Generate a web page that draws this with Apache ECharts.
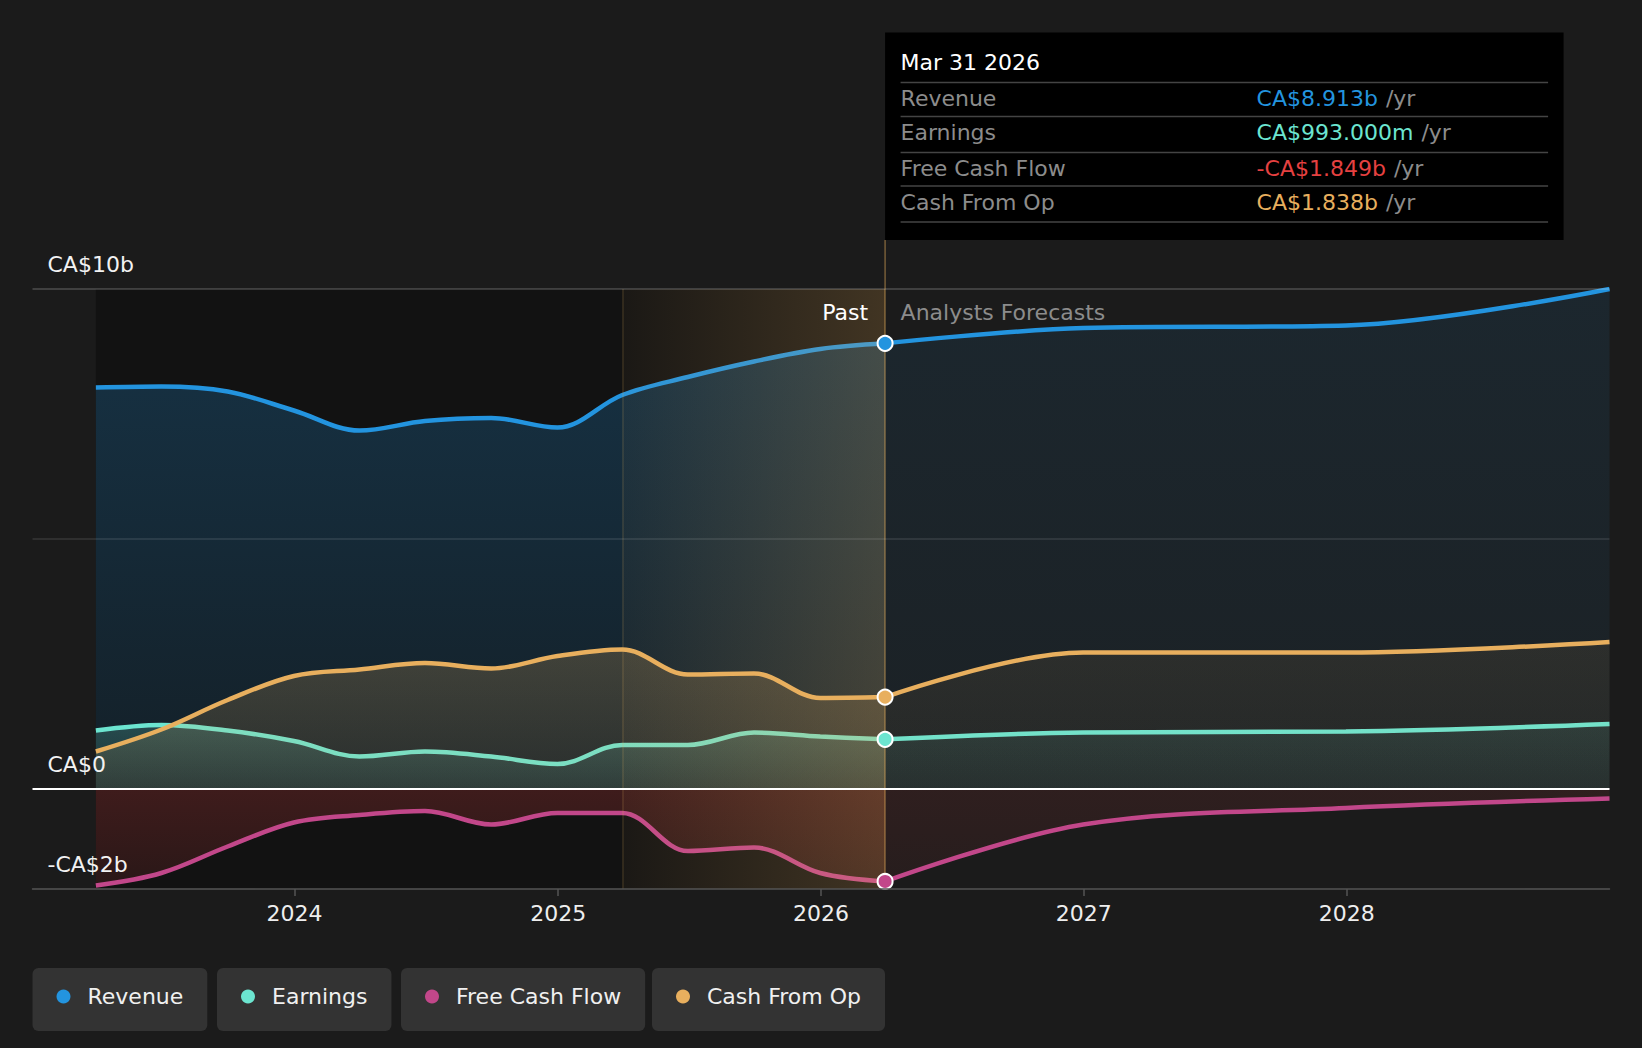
<!DOCTYPE html>
<html>
<head>
<meta charset="utf-8">
<script src="https://cdn.jsdelivr.net/npm/echarts@6/dist/echarts.min.js"></script>
<style>
html,body{margin:0;padding:0;background:#1b1b1b;}
#c{width:1642px;height:1048px;}
</style>
</head>
<body>
<div id="c"></div>
<script>
// ---------------- data ----------------
const seriesNames = ['Revenue', 'Earnings', 'Free Cash Flow', 'Cash From Op'];
const pastDates = ['2023-03-31','2023-06-30','2023-09-30','2023-12-31','2024-03-31','2024-06-30','2024-09-30','2024-12-31','2025-03-31','2025-06-30','2025-09-30','2025-12-31','2026-03-31'];
const revenuePast  = [8.03, 8.05, 7.95, 7.57, 7.17, 7.36, 7.42, 7.23, 7.88, 8.24, 8.55, 8.80, 8.913];
const earningsPast = [1.17, 1.28, 1.17, 0.96, 0.65, 0.75, 0.65, 0.50, 0.88, 0.88, 1.13, 1.05, 0.993];
const fcfPast      = [-1.93, -1.68, -1.15, -0.67, -0.52, -0.44, -0.71, -0.48, -0.48, -1.24, -1.17, -1.68, -1.849];
const cashOpPast   = [0.75, 1.19, 1.78, 2.26, 2.39, 2.52, 2.41, 2.66, 2.79, 2.29, 2.31, 1.82, 1.838];
const forecastDates = ['2026-03-31','2026-12-31','2027-12-31','2028-12-31'];
const revenueFc  = [8.913, 9.22, 9.27, 10.0];
const earningsFc = [0.993, 1.13, 1.15, 1.30];
const fcfFc      = [-1.849, -0.71, -0.38, -0.19];
const cashOpFc   = [1.838, 2.73, 2.73, 2.94];
const yTickLabels = {'10': 'CA$10b', '0': 'CA$0', '-2': '-CA$2b'};
const highlightStart = '2025-03-31';
const todayDate = '2026-03-31';
const tooltipTitle = 'Mar 31 2026';
const pastLabel = 'Past';
const forecastLabel = 'Analysts Forecasts';

// ---------------- style ----------------
const FONT = 'DejaVu Sans';
const FS = 22;
const COL = {
  'Revenue': '#2394df',
  'Earnings': '#6ce5d0',
  'Free Cash Flow': '#c2478a',
  'Cash From Op': '#e8af5e'
};
const VALCOL = {
  'Revenue': '#2394df',
  'Earnings': '#6ce5d0',
  'Free Cash Flow': '#e64141',
  'Cash From Op': '#e8af5e'
};
function rgba(hex, a) {
  const n = parseInt(hex.slice(1), 16);
  return 'rgba(' + (n >> 16) + ',' + ((n >> 8) & 255) + ',' + (n & 255) + ',' + a + ')';
}
function vgrad(c0, c1) {
  return {type: 'linear', x: 0, y: 0, x2: 0, y2: 1, colorStops: [{offset: 0, color: c0}, {offset: 1, color: c1}]};
}
const pair = (dates, vals) => dates.map((d, i) => [d, vals[i]]);

const metrics = [
  {name: 'Revenue', past: revenuePast, fc: revenueFc, fill: '#2394df', a: [0.34, 0.15], af: [0.14, 0.07]},
  {name: 'Earnings', past: earningsPast, fc: earningsFc, fill: '#6ce5d0', a: [0.3, 0.12], af: [0.15, 0.07]},
  {name: 'Cash From Op', past: cashOpPast, fc: cashOpFc, fill: '#e8af5e', a: [0.3, 0.14], af: [0.12, 0.06]},
  {name: 'Free Cash Flow', past: fcfPast, fc: fcfFc, fill: '#e64141', a: [0.3, 0.16], af: [0.14, 0.08]}
];

const SMOOTH = 0.35;
const series = [];
series.push({
  type: 'line', name: '_bg', data: [], silent: true, z: 1,
  markArea: {
    silent: true, z: 1,
    itemStyle: {color: 'rgba(0,0,0,0.33)'},
    data: [[{xAxis: pastDates[0]}, {xAxis: todayDate}]]
  }
});
metrics.forEach((m, idx) => {
  const col = COL[m.name];
  series.push({
    type: 'line', name: m.name, data: pair(pastDates, m.past),
    smooth: SMOOTH, symbol: 'none', z: 2 + idx * 0.01,
    lineStyle: {color: col, width: 4.5},
    itemStyle: {color: col},
    areaStyle: {color: vgrad(rgba(m.fill, m.a[0]), rgba(m.fill, m.a[1]))}
  });
  series.push({
    type: 'line', name: m.name + ' (forecast)', data: pair(forecastDates, m.fc),
    smooth: SMOOTH, symbol: 'none', z: 2 + idx * 0.01,
    lineStyle: {color: col, width: 4.5},
    itemStyle: {color: col},
    areaStyle: {color: vgrad(rgba(m.fill, m.af[0]), rgba(m.fill, m.af[1]))}
  });
});
series.push({
  type: 'line', name: '_band', data: [], silent: true, z: 3,
  markArea: {
    silent: true, z: 3,
    itemStyle: {color: {type: 'linear', x: 0, y: 0, x2: 1, y2: 0, colorStops: [
      {offset: 0, color: 'rgba(232,175,94,0.04)'}, {offset: 1, color: 'rgba(232,175,94,0.22)'}]}},
    data: [[{xAxis: highlightStart}, {xAxis: todayDate}]]
  },
  markLine: {
    silent: true, symbol: ['none', 'none'], z: 4, label: {show: false},
    data: [
      {xAxis: highlightStart, lineStyle: {color: 'rgba(232,175,94,0.16)', width: 1.5, type: 'solid'}},
      {xAxis: todayDate, lineStyle: {color: 'rgba(232,175,94,0.45)', width: 1.5, type: 'solid'}}
    ]
  }
});
series.push({
  type: 'line', name: '_grid', data: [], silent: true, z: 5,
  markLine: {
    silent: true, symbol: ['none', 'none'], z: 5, label: {show: false},
    data: [
      {yAxis: 10, lineStyle: {color: 'rgba(255,255,255,0.22)', width: 1.5, type: 'solid'}},
      {yAxis: 5, lineStyle: {color: 'rgba(255,255,255,0.12)', width: 1.5, type: 'solid'}},
      {yAxis: 0, lineStyle: {color: '#ffffff', width: 2, type: 'solid'}}
    ]
  }
});
const lastIdx = pastDates.length - 1;
metrics.forEach(m => {
  series.push({
    type: 'scatter', name: '_pt_' + m.name, z: 6, silent: true,
    data: [[pastDates[lastIdx], m.past[lastIdx]]],
    symbol: 'circle', symbolSize: 15,
    itemStyle: {color: COL[m.name], borderColor: '#ffffff', borderWidth: 2, opacity: 1}
  });
});

const legendLefts = [32.5, 217, 401, 652];
const legends = seriesNames.map((n, i) => ({
  data: [n], left: legendLefts[i], top: 968, orient: 'horizontal',
  backgroundColor: '#333333', borderRadius: 6, padding: [16, 24, 22, 24],
  itemWidth: 14, itemHeight: 14, icon: 'circle', selectedMode: false,
  textStyle: {color: '#f0f0f0', fontSize: FS, fontFamily: FONT, lineHeight: 25, padding: [0, 0, 0, 12]}
}));

const chart = echarts.init(document.getElementById('c'), null, {renderer: 'svg', width: 1642, height: 1048});
chart.setOption({
  animation: false,
  backgroundColor: '#1b1b1b',
  textStyle: {fontFamily: FONT},
  legend: legends,
  grid: {left: 32.5, right: 32.5, top: 289, bottom: 159, containLabel: false},
  xAxis: {
    type: 'time', min: '2023-01-02', max: '2028-12-31', splitNumber: 6, z: 8,
    axisLine: {show: true, onZero: false, lineStyle: {color: '#555555', width: 1.5}},
    axisTick: {show: true, length: 7, lineStyle: {color: '#555555', width: 1.5}},
    splitLine: {show: false},
    minorTick: {show: false},
    axisLabel: {
      color: '#eeeeee', fontSize: FS, fontFamily: FONT, margin: 13,
      formatter: v => { const d = new Date(v); return (d.getMonth() === 0 && d.getDate() === 1) ? String(d.getFullYear()) : ''; }
    }
  },
  yAxis: {
    type: 'value', min: -2, max: 10, interval: 1, z: 8,
    axisLine: {show: false}, axisTick: {show: false}, splitLine: {show: false},
    axisLabel: {
      inside: true, margin: 15, color: '#f2f2f2', fontSize: FS, fontFamily: FONT,
      verticalAlign: 'bottom', lineHeight: 24, padding: [0, 0, 13, 0],
      formatter: v => (yTickLabels[String(v)] !== undefined ? yTickLabels[String(v)] : '')
    }
  },
  series: series
});

// ---------------- annotations ----------------
function fmt(v) {
  const s = v < 0 ? '-' : '';
  const a = Math.abs(v);
  return a < 1 ? s + 'CA$' + (a * 1000).toFixed(3) + 'm' : s + 'CA$' + a.toFixed(3) + 'b';
}
const tPix = chart.convertToPixel({gridIndex: 0}, [echarts.number.parseDate(todayDate).getTime(), 10]);
const lx = tPix[0];
const gridTop = tPix[1];
const tipTop = 32.5, tipH = 207.5, tipW = 678.5;
const rowVals = {
  'Revenue': revenuePast[lastIdx],
  'Earnings': earningsPast[lastIdx],
  'Free Cash Flow': fcfPast[lastIdx],
  'Cash From Op': cashOpPast[lastIdx]
};
const rowYs = [98.5, 132.5, 168.5, 202];
const divYs = [82.5, 116.5, 152.5, 186, 222];
const FNT = FS + 'px "' + FONT + '"';
const g = [];
g.push({type: 'line', silent: true, z: 10, shape: {x1: lx, y1: tipTop + tipH, x2: lx, y2: gridTop},
  style: {stroke: 'rgba(232,175,94,0.45)', lineWidth: 1.5}});
g.push({type: 'rect', silent: true, z: 10, shape: {x: lx, y: tipTop, width: tipW, height: tipH}, style: {fill: '#000000'}});
g.push({type: 'text', silent: true, z: 11, style: {text: tooltipTitle, x: lx + 15.5, y: 62.5, fill: '#ffffff',
  font: FNT, align: 'left', verticalAlign: 'middle'}});
divYs.forEach(y => g.push({type: 'line', silent: true, z: 11, shape: {x1: lx + 15.5, y1: y, x2: lx + 663, y2: y},
  style: {stroke: '#444444', lineWidth: 1.5}}));
seriesNames.forEach((n, i) => {
  g.push({type: 'text', silent: true, z: 11, style: {text: n, x: lx + 15.5, y: rowYs[i], fill: '#8c8c8c',
    font: FNT, align: 'left', verticalAlign: 'middle'}});
  g.push({type: 'text', silent: true, z: 11, style: {
    text: '{v|' + fmt(rowVals[n]) + '}{u|/yr}', x: lx + 371.5, y: rowYs[i], align: 'left', verticalAlign: 'middle',
    rich: {v: {fill: VALCOL[n], fontSize: FS, fontFamily: FONT},
           u: {fill: '#8c8c8c', fontSize: FS, fontFamily: FONT, padding: [0, 0, 0, 8]}}
  }});
});
g.push({type: 'text', silent: true, z: 11, style: {text: pastLabel, x: lx - 17, y: gridTop + 23, fill: '#ffffff',
  font: FNT, align: 'right', verticalAlign: 'middle'}});
g.push({type: 'text', silent: true, z: 11, style: {text: forecastLabel, x: lx + 15.5, y: gridTop + 23, fill: '#8c8c8c',
  font: FNT, align: 'left', verticalAlign: 'middle'}});
chart.setOption({graphic: g});
</script>
</body>
</html>
